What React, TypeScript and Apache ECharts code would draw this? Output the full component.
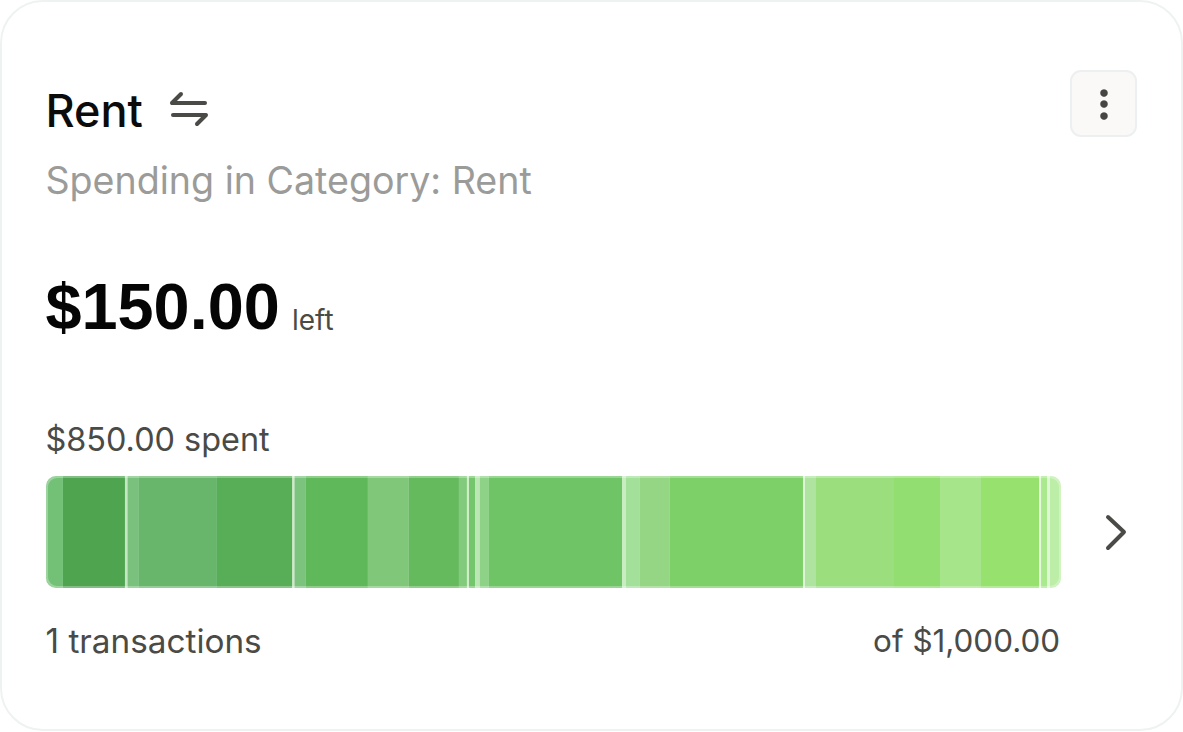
import React, { useEffect, useRef } from "react";
import * as echarts from "echarts";

const category = ["Rent"];
const segmentValues = [
  14.2, 51.9, 2.1, 9.6, 65.3, 63.2, 1.7, 9.6, 51.9, 34.3, 41.9, 6.7, 1.7, 5.4, 3.8, 7.5,
  111.4, 3.3, 11.7, 25.1, 111.4, 1.7, 9.2, 65.3, 38.5, 34.3, 48.6, 1.7, 5.0, 2.5, 9.2,
];
const segmentColors = [
  "#72c176", "#4ea44f", "#c5e6c5", "#79c17c", "#68b66b", "#58ad57", "#cfeacb", "#7cc47d",
  "#5fb85a", "#80c77a", "#64ba5c", "#82cb7c", "#d0edc8", "#74c66c", "#bce6b4", "#8ed288",
  "#6fc465", "#c8edc0", "#a3e09a", "#94d684", "#7dd068", "#def5d8", "#aee3a0", "#9ade7e",
  "#92de70", "#a6e58a", "#97e26f", "#e4f8dc", "#aae98e", "#e0f7d6", "#bdeea8",
];
const titleText = "Rent";
const subtitleText = "Spending in Category: Rent";
const amountText = "$150.00";
const leftText = "left";
const spentText = "$850.00 spent";
const transactionsText = "1 transactions";
const totalText = "of $1,000.00";

const FONT = "Inter, 'Noto Sans', sans-serif";
const DARK = "#4a4a46";

function label(x: number, y: number, text: string, fontSize: number, fill: string, fontWeight = 400, align = "left", fontFamily = FONT) {
  return {
    type: "text", x, y, silent: true,
    style: { text, fontSize, fill, fontWeight, fontFamily, textAlign: align, textVerticalAlign: "middle" },
  };
}

function line(points: number[][], stroke: string, lineWidth: number) {
  return {
    type: "polyline", silent: true,
    shape: { points },
    style: { stroke, lineWidth, fill: "none", lineCap: "round", lineJoin: "round" },
  };
}

export default function App() {
  const ref = useRef<HTMLDivElement>(null);
  useEffect(() => {
    const chart = echarts.init(ref.current!, null, { renderer: "svg" });
    const total = segmentValues.reduce((a, b) => a + b, 0);
    const last = segmentValues.length - 1;
    chart.setOption({
      animation: false,
      backgroundColor: "#ffffff",
      grid: { left: 46, width: 1015, top: 476, height: 112 },
      xAxis: { type: "value", min: 0, max: total, show: false },
      yAxis: { type: "category", data: category, show: false },
      series: segmentValues.map((v, i) => ({
        type: "bar",
        stack: "spent",
        barWidth: "100%",
        data: [v],
        silent: true,
        itemStyle: {
          color: segmentColors[i],
          borderRadius: i === 0 ? [10, 0, 0, 10] : i === last ? [0, 10, 10, 0] : 0,
        },
      })),
      graphic: [
        {
          type: "rect", z: -1, silent: true,
          shape: { x: 1, y: 1, width: 1181, height: 729, r: 42 },
          style: { fill: "#ffffff", stroke: "#eef2f1", lineWidth: 2 },
        },
        label(45.5, 110, titleText, 45, "#0b0b0b", 500),
        line([[173, 103], [205, 103]], DARK, 4),
        line([[181, 94], [172, 103]], DARK, 4),
        line([[173, 115], [205, 115]], DARK, 4),
        line([[197, 124], [206, 115]], DARK, 4),
        {
          type: "rect", silent: true,
          shape: { x: 1071, y: 71, width: 65, height: 65, r: 10 },
          style: { fill: "#faf9f8", stroke: "#edf0f0", lineWidth: 2 },
        },
        { type: "circle", silent: true, shape: { cx: 1104, cy: 93, r: 3.8 }, style: { fill: "#454542" } },
        { type: "circle", silent: true, shape: { cx: 1104, cy: 104, r: 3.8 }, style: { fill: "#454542" } },
        { type: "circle", silent: true, shape: { cx: 1104, cy: 116, r: 3.8 }, style: { fill: "#454542" } },
        label(45.5, 180, subtitleText, 37.6, "#9b9b99"),
        label(45.5, 306, amountText, 64.8, "#050505", 700, "left", "'Liberation Sans', Arial, sans-serif"),
        label(292, 320, leftText, 28, DARK),
        label(45.5, 439, spentText, 32.4, DARK),
        {
          type: "rect", silent: true, z: 10,
          shape: { x: 47, y: 477, width: 1013, height: 110, r: 10 },
          style: { fill: "none", stroke: "rgba(255,255,255,0.3)", lineWidth: 2 },
        },
        line([[1108, 517], [1124, 532], [1108, 548]], DARK, 4),
        label(45.5, 641, transactionsText, 33.3, DARK),
        label(1060, 641, totalText, 31.4, DARK, 400, "right"),
      ],
    });
    return () => chart.dispose();
  }, []);
  return <div ref={ref} style={{ position: "absolute", left: 0, top: 0, width: 1183, height: 732 }} />;
}
